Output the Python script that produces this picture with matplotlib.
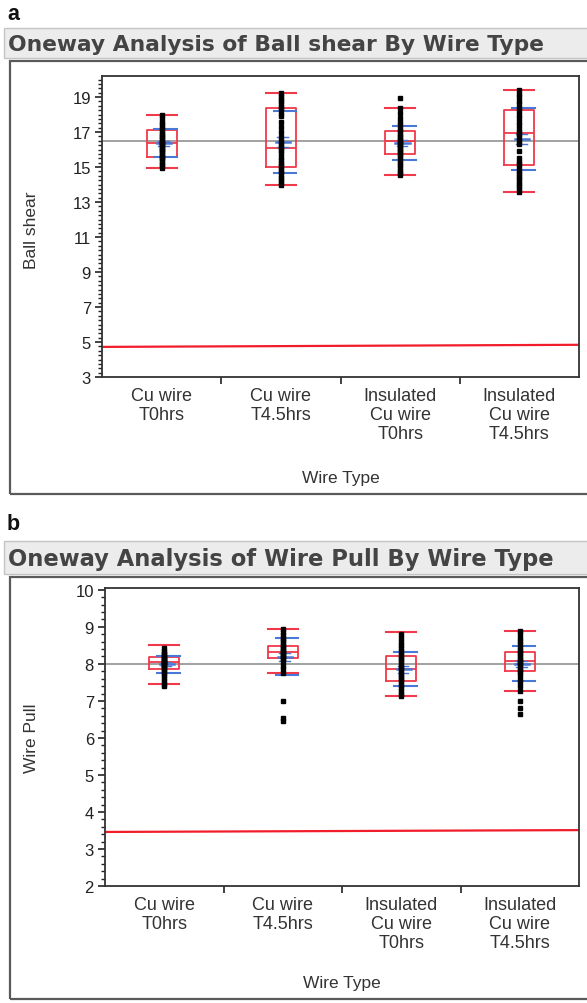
import matplotlib
matplotlib.use("Agg")
import matplotlib.pyplot as plt
from matplotlib.patches import Rectangle
from matplotlib.ticker import MultipleLocator, FixedLocator, NullFormatter

# ---------------- data ----------------
categories = ["Cu wire\nT0hrs", "Cu wire\nT4.5hrs", "Insulated\nCu wire\nT0hrs", "Insulated\nCu wire\nT4.5hrs"]

# Panel a: Ball shear
bs_points = [
    [14.95, 15.1, 15.2, 15.35, 15.45, 15.55, 15.6, 15.7, 15.8, 15.9, 16.0, 16.05, 16.15, 16.2, 16.3,
     16.35, 16.4, 16.5, 16.6, 16.7, 16.8, 16.9, 17.0, 17.15, 17.3, 17.45, 17.6, 17.8, 18.0],
    [13.99, 14.1, 14.25, 14.4, 14.55, 14.7, 14.85, 15.0, 15.1, 15.25, 15.4, 15.6, 15.8, 16.0, 16.1,
     16.2, 16.35, 16.5, 16.7, 17.0, 17.3, 17.6, 17.9, 18.1, 18.3, 18.45, 18.6, 18.75, 18.9, 19.05, 19.23],
    [14.52, 14.65, 14.8, 14.95, 15.1, 15.25, 15.4, 15.55, 15.7, 15.8, 15.9, 16.0, 16.1, 16.2, 16.3,
     16.4, 16.45, 16.55, 16.65, 16.75, 16.9, 17.05, 17.2, 17.4, 17.6, 17.8, 18.1, 18.37, 18.96],
    [13.6, 13.75, 13.9, 14.05, 14.2, 14.35, 14.5, 14.65, 14.8, 15.0, 15.15, 15.3, 15.5, 15.9, 16.3,
     16.5, 16.7, 16.9, 17.0, 17.2, 17.4, 17.6, 17.8, 18.0, 18.2, 18.4, 18.6, 18.8, 19.0, 19.2, 19.38],
]
bs_whislo = [14.95, 13.99, 14.52, 13.6]
bs_q1 = [15.57, 15.0, 15.76, 15.1]
bs_med = [16.39, 16.09, 16.46, 16.96]
bs_q3 = [17.13, 18.37, 17.03, 18.27]
bs_whishi = [18.0, 19.23, 18.37, 19.38]
bs_mean = [16.35, 16.42, 16.37, 16.61]
bs_sd = [0.8, 1.76, 0.95, 1.76]
bs_se = [0.15, 0.3, 0.17, 0.3]
bs_grand_mean = 16.46
bs_limit = [4.72, 4.84]

# Panel b: Wire Pull
wp_points = [
    [7.4, 7.46, 7.55, 7.62, 7.7, 7.76, 7.82, 7.86, 7.9, 7.94, 7.98, 8.0, 8.02, 8.04, 8.06, 8.08,
     8.1, 8.13, 8.16, 8.18, 8.22, 8.26, 8.3, 8.36, 8.42],
    [6.45, 6.55, 7.0, 7.76, 7.85, 7.95, 8.05, 8.12, 8.16, 8.2, 8.24, 8.28, 8.31, 8.34, 8.38, 8.42,
     8.47, 8.52, 8.58, 8.64, 8.7, 8.78, 8.86, 8.93],
    [7.12, 7.2, 7.28, 7.36, 7.44, 7.5, 7.56, 7.62, 7.68, 7.74, 7.8, 7.86, 7.92, 7.98, 8.04, 8.1,
     8.16, 8.21, 8.28, 8.36, 8.44, 8.52, 8.6, 8.7, 8.8],
    [6.65, 6.8, 7.0, 7.28, 7.4, 7.5, 7.6, 7.7, 7.78, 7.84, 7.9, 7.96, 8.02, 8.06, 8.1, 8.14, 8.2,
     8.26, 8.31, 8.38, 8.46, 8.54, 8.62, 8.7, 8.8, 8.88],
]
wp_whislo = [7.46, 7.76, 7.12, 7.28]
wp_q1 = [7.86, 8.16, 7.53, 7.82]
wp_med = [8.04, 8.31, 7.86, 8.09]
wp_q3 = [8.18, 8.47, 8.21, 8.31]
wp_whishi = [8.52, 8.93, 8.86, 8.88]
wp_mean = [7.99, 8.19, 7.85, 8.0]
wp_sd = [0.23, 0.5, 0.46, 0.47]
wp_se = [0.05, 0.1, 0.09, 0.09]
wp_grand_mean = 8.0
wp_limit = [3.46, 3.51]

# ---------------- layout helpers ----------------
W, H = 587, 1004
fig = plt.figure(figsize=(W / 100, H / 100), dpi=100)
fig.patch.set_facecolor("white")

def fx(px):
    return px / W

def fy(py):
    return 1 - py / H

def add_rect(x0, y0, x1, y1, **kw):
    r = Rectangle((fx(x0), fy(y1)), fx(x1) - fx(x0), fy(y0) - fy(y1), transform=fig.transFigure, **kw)
    fig.patches.append(r)

RED = "#f0394a"
BLUE = "#4a78d6"
LABEL_FONT = ["Liberation Sans", "DejaVu Sans"]


def panel(letter, letter_y, bar_y0, bar_y1, title, frame_top, frame_bottom,
          ax_box, ylim, major, minor, ylabel, ylabel_y, xlabel_y,
          points, whislo, q1, med, q3, whishi, mean, sd, se, grand_mean, limit):
    fig.text(fx(7), fy(letter_y), letter, fontsize=15.5, fontweight="bold", family=LABEL_FONT,
             color="#111111", va="center", ha="left")
    # title bar
    add_rect(4, bar_y0, 590, bar_y1, facecolor="#ececec", edgecolor="#c4c4c4", lw=1.0)
    t = fig.text(fx(8), fy((bar_y0 + bar_y1) / 2 + 1), title, fontsize=13.5, fontweight="bold",
                 family="DejaVu Sans", color="#444444", va="center", ha="left")
    # outer frame
    add_rect(10, frame_top, 600, frame_bottom, facecolor="none", edgecolor="#5a5a5a", lw=1.6)

    l, r, top, bot = ax_box
    ax = fig.add_axes([fx(l), fy(bot), fx(r) - fx(l), fy(top) - fy(bot)])
    ax.set_xlim(-0.5, 3.5)
    ax.set_ylim(*ylim)

    pos = list(range(len(categories)))
    stats = []
    for i in pos:
        stats.append(dict(whislo=whislo[i], q1=q1[i], med=med[i], q3=q3[i], whishi=whishi[i], fliers=[]))
    ax.bxp(stats, positions=pos, widths=0.25, showfliers=False, manage_ticks=False,
           boxprops=dict(color=RED, lw=1.3), medianprops=dict(color=RED, lw=1.3),
           whiskerprops=dict(color=RED, lw=1.2), capprops=dict(color=RED, lw=1.5),
           capwidths=0.25, zorder=3)

    # grand mean and limit lines
    ax.axhline(grand_mean, color="#9a9a9a", lw=1.3, zorder=1)
    ax.plot([-0.5, 3.5], limit, color="#f21d2a", lw=1.6, zorder=2)

    # blue mean / std dev lines
    for i in pos:
        for v in (mean[i] - sd[i], mean[i] + sd[i]):
            ax.plot([i - 0.06, i + 0.13], [v, v], color=BLUE, lw=1.5, zorder=4)
        ax.plot([i - 0.04, i + 0.08], [mean[i], mean[i]], color=BLUE, lw=1.8, zorder=4)
        for v in (mean[i] - se[i], mean[i] + se[i]):
            ax.plot([i - 0.03, i + 0.06], [v, v], color=BLUE, lw=1.0, zorder=4)

    # points
    for i in pos:
        ax.plot([i] * len(points[i]), points[i], ls="none", marker="s", ms=2.3,
                mfc="black", mec="black", zorder=5)

    # ticks
    ax.yaxis.set_major_locator(FixedLocator(major))
    ax.yaxis.set_minor_locator(MultipleLocator(minor))
    ax.tick_params(axis="y", which="major", direction="out", length=5, width=1.2,
                   labelsize=12, colors="#222222", pad=3)
    ax.tick_params(axis="y", which="minor", direction="out", length=3, width=1.0, colors="#222222")
    ax.set_xticks([0.5, 1.5, 2.5])
    ax.xaxis.set_major_formatter(NullFormatter())
    ax.set_xticks(pos, minor=True)
    ax.set_xticklabels(categories, minor=True, fontsize=13, family=LABEL_FONT, color="#333333",
                       linespacing=1.15)
    ax.tick_params(axis="x", which="minor", length=0, pad=7)
    ax.tick_params(axis="x", which="major", direction="out", length=5, width=1.2, colors="#222222")
    for lab in ax.get_yticklabels():
        lab.set_family(LABEL_FONT)
    for s in ax.spines.values():
        s.set_color("#333333")
        s.set_linewidth(1.3)

    fig.text(fx(31), fy(ylabel_y), ylabel, rotation=90, fontsize=12.5, family=LABEL_FONT,
             color="#333333", ha="center", va="center")
    fig.text(fx((l + r) / 2), fy(xlabel_y), "Wire Type", fontsize=12.5, family=LABEL_FONT,
             color="#333333", ha="center", va="center")
    return t


t1 = panel("a", 15, 29, 59, "Oneway Analysis of Ball shear By Wire Type", 62, 495,
           (102, 579, 77, 378), (3, 20.2), [3, 5, 7, 9, 11, 13, 15, 17, 19], 0.25,
           "Ball shear", 230, 478,
           bs_points, bs_whislo, bs_q1, bs_med, bs_q3, bs_whishi, bs_mean, bs_sd, bs_se,
           bs_grand_mean, bs_limit)

t2 = panel("b", 525, 542, 575, "Oneway Analysis of Wire Pull By Wire Type", 578, 1000,
           (105, 579, 589, 887), (2, 10.05), [2, 3, 4, 5, 6, 7, 8, 9, 10], 0.2,
           "Wire Pull", 738, 984,
           wp_points, wp_whislo, wp_q1, wp_med, wp_q3, wp_whishi, wp_mean, wp_sd, wp_se,
           wp_grand_mean, wp_limit)

# fit title widths to the reference (about 538 px and 545 px)
fig.canvas.draw()
r = fig.canvas.get_renderer()
for t, target in ((t1, 538), (t2, 545)):
    w = t.get_window_extent(renderer=r).width
    t.set_fontsize(t.get_fontsize() * target / w)

fig.savefig("out.png", dpi=100, facecolor="white")
